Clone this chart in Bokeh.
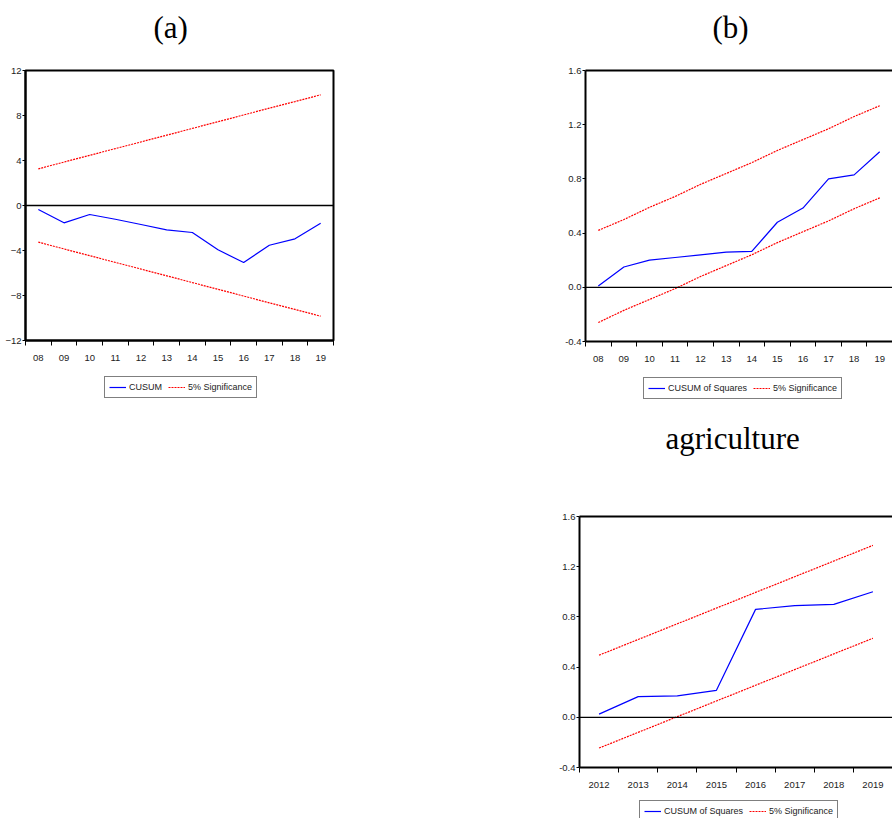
from bokeh.plotting import figure
from bokeh.models import (Range1d, FixedTicker, Span, Legend, LegendItem, LinearAxis,
                          PrintfTickFormatter)
from bokeh.layouts import row, column
from bokeh.embed import file_html
from bokeh.resources import INLINE

# ---------------- data ----------------
years_a = ["08", "09", "10", "11", "12", "13", "14", "15", "16", "17", "18", "19"]
cusum_a = [-0.36, -1.54, -0.80, -1.22, -1.69, -2.16, -2.40, -3.94, -5.07, -3.53, -2.96, -1.57]
sig_upper_a = [3.26, 3.86, 4.46, 5.06, 5.65, 6.25, 6.85, 7.45, 8.05, 8.65, 9.24, 9.84]
sig_lower_a = [-3.26, -3.86, -4.46, -5.06, -5.65, -6.25, -6.85, -7.45, -8.05, -8.65, -9.24, -9.84]
yticks_a = [-12, -8, -4, 0, 4, 8, 12]

years_b = ["08", "09", "10", "11", "12", "13", "14", "15", "16", "17", "18", "19"]
cusumsq_b = [0.01, 0.15, 0.20, 0.22, 0.24, 0.26, 0.265, 0.48, 0.585, 0.80, 0.83, 1.00]
sig_upper_b = [0.42, 0.50, 0.59, 0.67, 0.76, 0.84, 0.92, 1.01, 1.09, 1.17, 1.26, 1.34]
sig_lower_b = [-0.26, -0.17, -0.09, -0.01, 0.08, 0.16, 0.24, 0.33, 0.41, 0.49, 0.58, 0.66]
yticks_b = [-0.4, 0.0, 0.4, 0.8, 1.2, 1.6]

years_c = ["2012", "2013", "2014", "2015", "2016", "2017", "2018", "2019"]
cusumsq_c = [0.025, 0.165, 0.17, 0.215, 0.86, 0.89, 0.90, 1.00]
sig_upper_c = [0.495, 0.62, 0.745, 0.87, 0.995, 1.12, 1.245, 1.37]
sig_lower_c = [-0.245, -0.12, 0.005, 0.13, 0.255, 0.38, 0.505, 0.63]
yticks_c = [-0.4, 0.0, 0.4, 0.8, 1.2, 1.6]

SANS = "Liberation Sans"
SERIF = "Liberation Serif"
BLUE = "#0000FF"
RED = "#FF0000"
TXT = "#222222"
DASH = "2 1"


def blank_fig(width, height):
    f = figure(width=width, height=height, output_backend="svg", toolbar_location=None,
               x_range=Range1d(0, 1), y_range=Range1d(0, 1),
               x_axis_location=None, y_axis_location=None,
               min_border_left=0, min_border_right=0, min_border_top=0, min_border_bottom=0)
    f.grid.visible = False
    f.outline_line_color = None
    f.background_fill_color = "white"
    f.border_fill_color = "white"
    return f


def title_fig(text, width, height, offset, standoff):
    f = blank_fig(width, height)
    f.title.text = text
    f.title.align = "left"
    f.title.offset = offset
    f.title.standoff = standoff
    f.title.text_font = SERIF
    f.title.text_font_size = "31px"
    f.title.text_font_style = "normal"
    f.title.text_color = "black"
    return f


def legend_fig(main_label, width, height, loc):
    f = blank_fig(width, height)
    # legend proxies (kept outside the visible range)
    r1 = f.line([-2, -1], [-2, -1], line_color=BLUE, line_width=1.2)
    r2 = f.line([-2, -1], [-2, -1], line_color=RED, line_width=1.2, line_dash=DASH)
    legend = Legend(items=[LegendItem(label=main_label, renderers=[r1]),
                           LegendItem(label="5% Significance", renderers=[r2])],
                    orientation="horizontal", location=loc,
                    border_line_color="black", border_line_width=1.2,
                    padding=4, spacing=6, margin=0,
                    glyph_width=17, glyph_height=12, label_height=12,
                    label_standoff=3, label_text_font=SANS,
                    label_text_font_size="9px", label_text_color=TXT,
                    background_fill_color="white", background_fill_alpha=1)
    f.add_layout(legend, "center")
    return f


def plot_fig(cats, main, upper, lower, yticks, yfmt, width, height,
             mb_left, mb_top, mb_bottom, mb_right, right_border):
    n = len(cats)
    xs = list(range(n))
    p = figure(width=width, height=height,
               output_backend="svg", toolbar_location=None,
               x_range=Range1d(-0.5, n - 0.5),
               y_range=Range1d(yticks[0], yticks[-1]),
               min_border_left=mb_left, min_border_top=mb_top,
               min_border_bottom=mb_bottom, min_border_right=mb_right)
    p.grid.visible = False
    p.background_fill_color = "white"
    p.border_fill_color = "white"

    xa = p.xaxis[0]
    xa.ticker = FixedTicker(ticks=xs, minor_ticks=[i - 0.5 for i in range(n + 1)])
    xa.major_label_overrides = {i: c for i, c in enumerate(cats)}
    xa.major_tick_out = 0
    xa.major_tick_in = 0
    xa.minor_tick_out = 5
    xa.minor_tick_in = 0
    xa.minor_tick_line_color = "black"
    xa.minor_tick_line_width = 1
    xa.axis_line_width = 2
    xa.axis_line_color = "black"
    xa.major_label_standoff = 9
    xa.major_label_text_font = SANS
    xa.major_label_text_font_size = "9.5px"
    xa.major_label_text_color = TXT

    ya = p.yaxis[0]
    ya.ticker = FixedTicker(ticks=yticks, minor_ticks=[])
    if yfmt:
        ya.formatter = PrintfTickFormatter(format=yfmt)
    ya.major_tick_out = 3
    ya.major_tick_in = 0
    ya.major_tick_line_color = "black"
    ya.minor_tick_out = 0
    ya.minor_tick_in = 0
    ya.axis_line_width = 2
    ya.axis_line_color = "black"
    ya.major_label_standoff = 1
    ya.major_label_text_font = SANS
    ya.major_label_text_font_size = "9.5px"
    ya.major_label_text_color = TXT

    if right_border:
        p.outline_line_color = "black"
        p.outline_line_width = 2
    else:
        p.outline_line_color = None
        top = LinearAxis(ticker=FixedTicker(ticks=[], minor_ticks=[]), axis_line_width=2,
                         axis_line_color="black", major_tick_out=0, major_tick_in=0,
                         minor_tick_out=0, minor_tick_in=0, major_label_standoff=0,
                         major_label_text_font_size="0px")
        p.add_layout(top, "above")

    p.add_layout(Span(location=0, dimension="width", line_color="black", line_width=1.3))

    p.line(xs, main, line_color=BLUE, line_width=1.2)
    p.line(xs, upper, line_color=RED, line_width=1.2, line_dash=DASH)
    p.line(xs, lower, line_color=RED, line_width=1.2, line_dash=DASH)
    return p


# panel (a): x 0..555, frame left at 25
ta = title_fig("(a)", 555, 55, 128, 14)
pa = plot_fig(years_a, cusum_a, sig_upper_a, sig_lower_a, yticks_a, None,
              555, 315, 25, 15, 30, 222, True)
la = legend_fig("CUSUM", 555, 40, (79, 12))

# panel (b): x 555..892, frame left at 585
tb = title_fig("(b)", 337, 55, 127, 14)
pb = plot_fig(years_b, cusumsq_b, sig_upper_b, sig_lower_b, yticks_b, "%.1f",
              337, 316, 30, 15, 30, 0, False)
lb = legend_fig("CUSUM of Squares", 337, 34, (58, 6))

# panel agriculture: frame left at 579
tc = title_fig("agriculture", 337, 66, 86, 27)
pc = plot_fig(years_c, cusumsq_c, sig_upper_c, sig_lower_c, yticks_c, "%.1f",
              337, 326, 24, 45, 30, 0, False)
lc = legend_fig("CUSUM of Squares", 337, 21, (60, -4))

layout = row(column(ta, pa, la),
             column(column(tb, pb, lb), column(tc, pc, lc)))

open("out.html", "w").write(file_html(layout, INLINE))
